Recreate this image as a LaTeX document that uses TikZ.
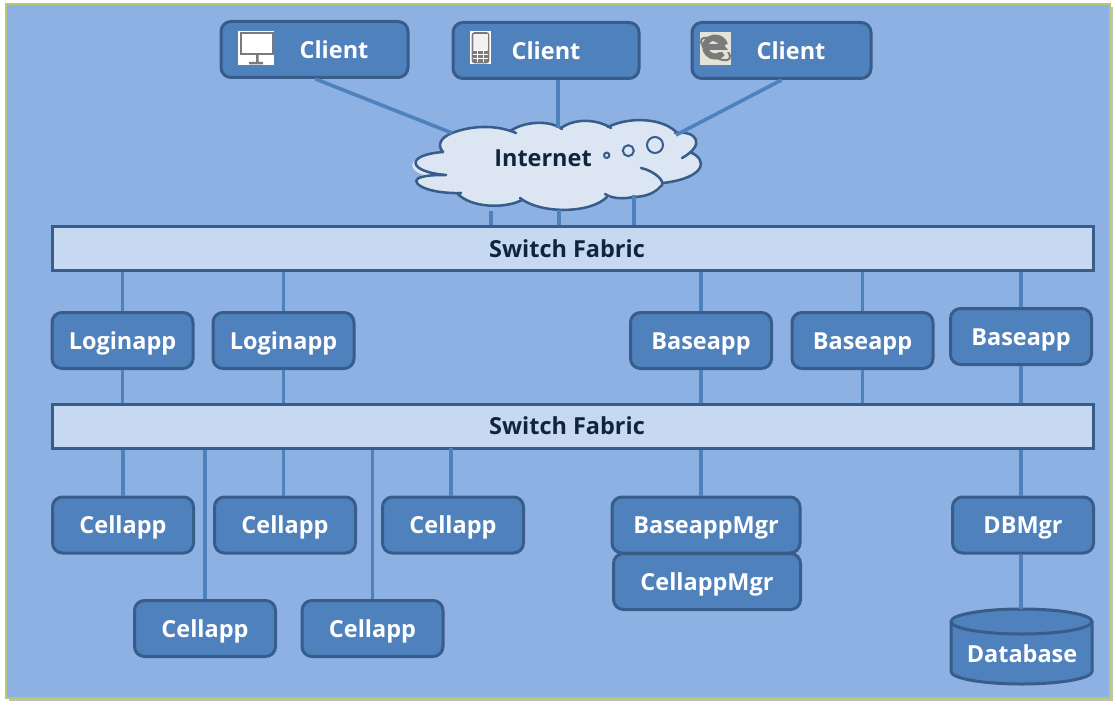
\documentclass[tikz,border=0pt]{standalone}
\usepackage{fontspec}
\setmainfont{Open Sans}
\definecolor{backblue}{HTML}{8DB1E3}
\definecolor{boxblue}{HTML}{4F81BD}
\definecolor{boxedge}{HTML}{385D8A}
\definecolor{barblue}{HTML}{C6D9F1}
\definecolor{cloudblue}{HTML}{DCE6F2}
\definecolor{darktext}{HTML}{0F243E}
\definecolor{frameedge}{HTML}{B3C976}
\definecolor{icongrey}{HTML}{7A7A7A}
\definecolor{iconback}{HTML}{E4E3D8}
\def\px{0.75pt}
\tikzset{
  appbox/.style={draw=boxedge,fill=boxblue,line width=2.25pt,rounded corners=7.5pt,
    text=white,font=\fontsize{17.6}{20}\selectfont\bfseries,inner sep=0pt,
    text height=17pt,text depth=4pt,
    minimum width=141*\px,minimum height=56*\px},
  fabric/.style={draw=boxedge,fill=barblue,line width=2.25pt,inner sep=0pt,
    minimum width=1041*\px,minimum height=44*\px},
  darklabel/.style={text=darktext,font=\fontsize{17.6}{20}\selectfont\bfseries,inner sep=0pt},
  link/.style={draw=boxblue,line width=2.7pt},
}
\begin{document}
\begin{tikzpicture}[x=0.75pt,y=-0.75pt]
\useasboundingbox (0,0) rectangle (1116,706);

% frame
\fill[black!25] (9,7) rectangle (1113,701);
\draw[draw=frameedge,fill=backblue,line width=1.5pt] (6,4) rectangle (1110,698);

% clients
\node[appbox,minimum width=187*\px] (client1) at (314.5,49.5) {\hspace*{29.25pt}Client};
\node[appbox,minimum width=186*\px] (client2) at (546,50.5) {Client};
\node[appbox,minimum width=179*\px] (client3) at (781.5,50.5) {\hspace*{14.25pt}Client};

% the cloud
\fill[cloudblue] (452,133) .. controls (470,126) and (495,124) .. (513,132)
  .. controls (525,121) and (550,120) .. (562,128)
  .. controls (575,118) and (597,119) .. (609,127)
  .. controls (630,116) and (665,118) .. (676,133)
  .. controls (692,131) and (702,140) .. (690,152)
  .. controls (709,160) and (705,178) .. (663,183)
  .. controls (662,192) and (650,197) .. (633,197)
  .. controls (625,199) and (612,199) .. (605,197)
  .. controls (590,214) and (540,214) .. (521,199)
  .. controls (505,209) and (470,208) .. (459,193)
  .. controls (422,194) and (408,180) .. (424,175)
  .. controls (406,170) and (406,155) .. (443,152)
  .. controls (437,145) and (440,138) .. (452,133) -- cycle;
\draw[boxedge,line width=1.9pt,line cap=round]
  (452,133) .. controls (470,126) and (495,124) .. (516,133)
  (510,131) .. controls (525,121) and (550,120) .. (562,129)
  (561,128) .. controls (575,118) and (597,119) .. (611,128)
  (608,127) .. controls (630,116) and (665,118) .. (678,134)
  (675,133) .. controls (697,130) and (706,145) .. (682,158)
  (690,152) .. controls (709,160) and (705,178) .. (663,183)
  (641,168) .. controls (655,171) and (668,183) .. (660,187)
  .. controls (655,193) and (645,197) .. (633,197)
  .. controls (625,199) and (612,199) .. (605,194)
  (607,197) .. controls (590,214) and (540,214) .. (520,198)
  (522,200) .. controls (505,209) and (470,208) .. (457,193)
  (461,193) .. controls (422,194) and (407,180) .. (422,177)
  .. controls (428,175) and (440,175) .. (446,175)
  (446,175) .. controls (408,172) and (404,155) .. (443,152)
  (443,152) .. controls (437,145) and (440,138) .. (452,133);
\draw[boxedge,line width=1.5pt] (606.7,155.3) circle (2.7);
\draw[boxedge,line width=1.5pt] (628.3,150.7) circle (5.5);
\draw[boxedge,line width=1.5pt] (655,145) circle (8);
\node[darklabel] (internet) at (543,158) {Internet};
\coordinate (cloudleft) at (452,133);
\coordinate (cloudtop) at (558,128);
\coordinate (cloudright) at (676,135);
\coordinate (cloudbot1) at (491,211);
\coordinate (cloudbot2) at (559,210);
\coordinate (cloudbot3) at (634,195);

% switches
\node[fabric] (fabric1) at (572.5,248.5) {};
\node[fabric] (fabric2) at (572.5,426) {};
\node[darklabel] (fabric1text) at (567,249) {Switch Fabric};
\node[darklabel] (fabric2text) at (567,426) {Switch Fabric};

% apps
\node[appbox] (login1) at (122.5,340.5) {Loginapp};
\node[appbox] (login2) at (283.5,340.5) {Loginapp};
\node[appbox] (base1) at (701,340.5) {Baseapp};
\node[appbox] (base2) at (862.5,340.5) {Baseapp};
\node[appbox] (base3) at (1021,336.5) {Baseapp};
\node[appbox] (cell1) at (123,525) {Cellapp};
\node[appbox] (cell2) at (285,525) {Cellapp};
\node[appbox] (cell3) at (453,525) {Cellapp};
\node[appbox] (cell4) at (205,628.5) {Cellapp};
\node[appbox] (cell5) at (372.5,628.5) {Cellapp};
\node[appbox,minimum width=187*\px] (cellmgr) at (707,581.5) {CellappMgr};
\node[appbox,minimum width=188*\px] (basemgr) at (706,525) {BaseappMgr};
\node[appbox] (dbmgr) at (1023,525) {DBMgr};

% the database
\draw[draw=boxedge,fill=boxblue,line width=2.25pt] (951,621.5) -- (951,671.5) arc (180:0:70.5 and 12.5) -- (1092,621.5) arc (0:-180:70.5 and 12.5) -- cycle;
\draw[boxedge,line width=2.25pt] (951,621.5) arc (180:0:70.5 and 12.5);
\node[text=white,font=\fontsize{17.6}{20}\selectfont\bfseries,inner sep=0pt] (database) at (1022,654) {Database};
\coordinate (dbtop) at (1021,609);

% icons
\fill[white] (238,31) rectangle (274,65);
\draw[icongrey,line width=1.5pt] (240.5,33) rectangle (272.5,54.5);
\fill[icongrey] (256,55) rectangle (258.5,62) (249,62) rectangle (263,64.5);
\fill[white] (470,31) rectangle (491,64);
\draw[icongrey,line width=1.2pt,rounded corners=1.5pt] (472.5,33) rectangle (488.5,62.5);
\fill[black!5] (473.5,34) rectangle (487.5,50);
\fill[icongrey] (473,51) rectangle (488,62);
\draw[white,line width=0.6pt] (473,54.5) -- (488,54.5) (473,58) -- (488,58) (477.5,51) -- (477.5,62) (483,51) -- (483,62);
\fill[iconback] (700,32) rectangle (731,65);
\draw[icongrey,line width=1.5pt,rotate around={-35:(715.5,49)}] (715.5,49) ellipse (17 and 7);
\draw[icongrey,line width=4.5pt] (706,47) -- (725,47);
\draw[icongrey,line width=4.5pt] (725,45) arc (-10:-180:10 and 9) arc (180:40:10 and 10);
\fill[iconback] (712,50) rectangle (730,52);

% links
\draw[link] (client1.south) ++(1,0) -- (cloudleft);
\draw[link] (client2.south) ++(12,0) -- (cloudtop);
\draw[link] (client3.south) -- (cloudright);
\draw[link] (cloudbot1) -- (cloudbot1 |- fabric1.north);
\draw[link] (cloudbot2) -- (cloudbot2 |- fabric1.north);
\draw[link] (cloudbot3) -- (cloudbot3 |- fabric1.north);
\foreach \a in {login1,login2,base1,base2,base3}{
  \draw[link] (fabric1.south -| \a) -- (\a.north);
  \draw[link] (\a.south) -- (fabric2.north -| \a);
}
\draw[link] (fabric2.south -| cell1) -- (cell1.north);
\draw[link] (fabric2.south -| login2) -- (cell2.north -| login2);
\draw[link] (fabric2.south -| cell4) -- (cell4.north);
\draw[link] (fabric2.south -| cell5) -- (cell5.north);
\draw[link] (cell3.north) ++(-2,-48) -- ++(0,48);
\draw[link] (fabric2.south -| base1) -- (basemgr.north -| base1);
\draw[link] (fabric2.south -| base3) -- (dbmgr.north -| base3);
\draw[link] (dbmgr.south -| base3) -- (dbtop);
\end{tikzpicture}
\end{document}
